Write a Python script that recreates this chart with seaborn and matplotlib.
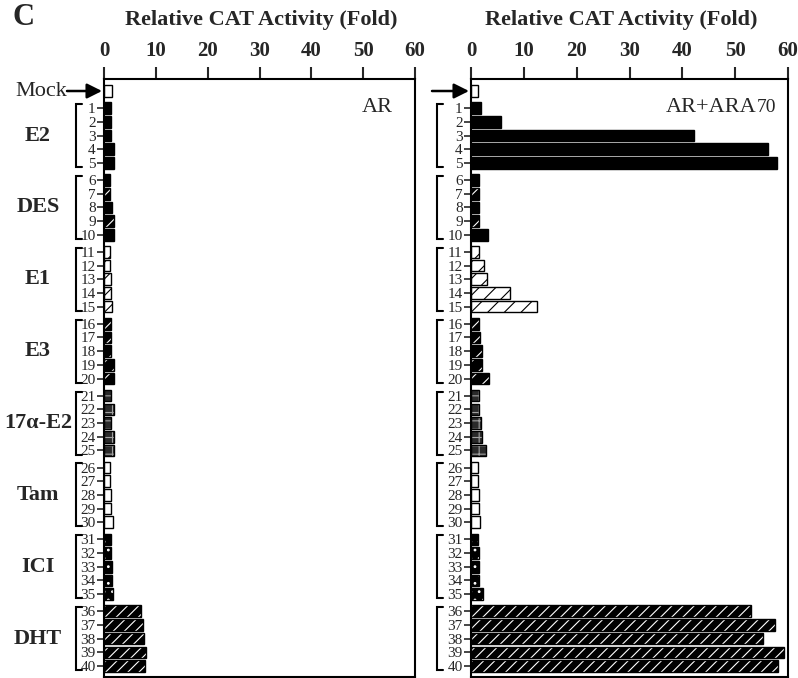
import pandas as pd
import matplotlib
matplotlib.use('Agg')
import matplotlib.pyplot as plt
import matplotlib.transforms as mtrans
import seaborn as sns

sns.set_style('ticks')
plt.rcParams['font.family'] = ['Liberation Serif', 'DejaVu Serif']
plt.rcParams['hatch.linewidth'] = 0.8

# ---- data ----
group_names = ['E2', 'DES', 'E1', 'E3', '17α-E2', 'Tam', 'ICI', 'DHT']

ar_mock = 1.5
ar_fold = [1.4, 1.4, 1.4, 1.9, 1.9,
           1.2, 1.2, 1.5, 1.9, 1.9,
           1.2, 1.2, 1.3, 1.3, 1.5,
           1.3, 1.3, 1.3, 1.9, 1.9,
           1.4, 1.9, 1.3, 1.9, 1.9,
           1.2, 1.2, 1.3, 1.3, 1.7,
           1.4, 1.4, 1.5, 1.5, 1.7,
           7.1, 7.5, 7.7, 8.1, 8.0]

ara_mock = 1.4
ara_fold = [1.8, 5.6, 42.2, 56.3, 57.9,
            1.6, 1.6, 1.6, 1.6, 3.2,
            1.6, 2.5, 3.1, 7.4, 12.4,
            1.6, 1.7, 2.0, 2.0, 3.5,
            1.6, 1.6, 1.8, 2.0, 2.8,
            1.4, 1.4, 1.6, 1.6, 1.7,
            1.4, 1.6, 1.6, 1.6, 2.2,
            53.0, 57.5, 55.2, 59.3, 58.2]

row_labels = ['Mock'] + [str(i) for i in range(1, 41)]
row_groups = ['Mock'] + [g for g in group_names for _ in range(5)]
# extra quarter-row gap in front of every group
row_pos = [0.0] + [k + 0.25 * ((k - 1) // 5 + 1) for k in range(1, 41)]

# face colour, hatch, hatch colour
styles = {
    'Mock': ('white', None, 'black'),
    'E2': ('black', None, 'black'),
    'DES': ('black', '/', 'white'),
    'E1': ('white', '//', 'black'),
    'E3': ('black', '//', 'white'),
    '17α-E2': ('#2a2a2a', '++', '#a0a0a0'),
    'Tam': ('white', None, 'black'),
    'ICI': ('black', '..', 'white'),
    'DHT': ('black', '///', 'white'),
}

W, H = 798, 678
fig = plt.figure(figsize=(W / 100, H / 100), dpi=100)


def draw_panel(px_left, px_right, values, opts):
    ax = fig.add_axes([px_left / W, 1 - 677 / H, (px_right - px_left) / W, 598 / H])
    df = pd.DataFrame({'pos': row_pos, 'fold': values, 'group': row_groups})
    pal = {g: s[0] for g, s in styles.items()}
    sns.barplot(data=df, x='fold', y='pos', hue='group', palette=pal, orient='y',
                native_scale=True, width=0.85, dodge=False, legend=False,
                errorbar=None, linewidth=0, saturation=1, ax=ax)
    for p in ax.patches:
        yc = p.get_y() + p.get_height() / 2
        i = min(range(len(row_pos)), key=lambda j: abs(row_pos[j] - yc))
        face, hatch, hcol = styles[row_groups[i]]
        if hatch:
            p.set_hatch(hatch)
            p.set_edgecolor(hcol)
    # black outlines on top
    sns.barplot(data=df, x='fold', y='pos', orient='y', native_scale=True,
                width=0.85, fill=False, color='black', linewidth=1.0,
                errorbar=None, ax=ax)

    ax.set_xlim(0, 60)
    ax.set_ylim(42.8, -0.877)
    ax.set_xlabel('')
    ax.set_ylabel('')
    ax.xaxis.tick_top()
    ax.set_xticks(range(0, 61, 10))
    ax.tick_params(axis='x', direction='out', length=8.6, width=1.5, labelsize=15, pad=4)
    for t in ax.get_xticklabels():
        t.set_fontweight('bold')
    ax.set_yticks(row_pos[1:])
    ax.set_yticklabels(row_labels[1:])
    ax.tick_params(axis='y', direction='out', length=5, width=1.2, labelsize=11, pad=1)
    for s in ax.spines.values():
        s.set_visible(True)
        s.set_linewidth(1.5)
        s.set_color('black')

    # title above each panel
    fig.text(opts['title_x'] / W, 1 - 25 / H, 'Relative CAT Activity (Fold)',
             ha='center', va='baseline', fontsize=16, fontweight='bold')

    # brackets for the groups
    tr = mtrans.blended_transform_factory(ax.transAxes, ax.transData)
    bx = (opts['bracket'] - px_left) / (px_right - px_left)
    sx = (opts['bracket'] + 6 - px_left) / (px_right - px_left)
    for gi in range(len(group_names)):
        y0 = row_pos[1 + gi * 5] - 0.3
        y1 = row_pos[5 + gi * 5] + 0.3
        ax.plot([sx, bx, bx, sx], [y0, y0, y1, y1], color='black', lw=1.5,
                transform=tr, clip_on=False, solid_joinstyle='miter')

    # arrow pointing at Mock
    ax.annotate('', xy=(-2 / (px_right - px_left), row_pos[0]), xycoords=tr,
                xytext=((opts['arrow'] - px_left) / (px_right - px_left), row_pos[0]),
                textcoords=tr,
                arrowprops=dict(arrowstyle='-|>,head_length=0.9,head_width=0.45',
                                lw=1.8, color='black', shrinkA=0, shrinkB=0))
    return ax


ax1 = draw_panel(104, 415, [ar_mock] + ar_fold,
                 {'title_x': 261.5, 'bracket': 76, 'arrow': 67})
ax2 = draw_panel(471, 788, [ara_mock] + ara_fold,
                 {'title_x': 621.5, 'bracket': 437, 'arrow': 432})

# group names on the left
ftr = mtrans.blended_transform_factory(fig.transFigure, ax1.transData)
for gi, g in enumerate(group_names):
    yc = (row_pos[1 + gi * 5] + row_pos[5 + gi * 5]) / 2
    fig.text(38 / W, yc, g, transform=ftr, ha='center', va='center',
             fontsize=16, fontweight='bold')
fig.text(67 / W, row_pos[0], 'Mock', transform=ftr, ha='right', va='center', fontsize=16)

# panel annotations
ax1.text(0.929, 0.9448, 'AR', transform=ax1.transAxes, ha='right', va='baseline', fontsize=16)
ax2.text(0.902, 0.9448, 'AR+ARA', transform=ax2.transAxes, ha='right', va='baseline', fontsize=16)
ax2.text(0.902, 0.9448, '70', transform=ax2.transAxes, ha='left', va='baseline', fontsize=14)

fig.text(12 / W, 1 - 25 / H, 'C', ha='left', va='baseline', fontsize=22, fontweight='bold')

fig.savefig('out.png', dpi=100)
